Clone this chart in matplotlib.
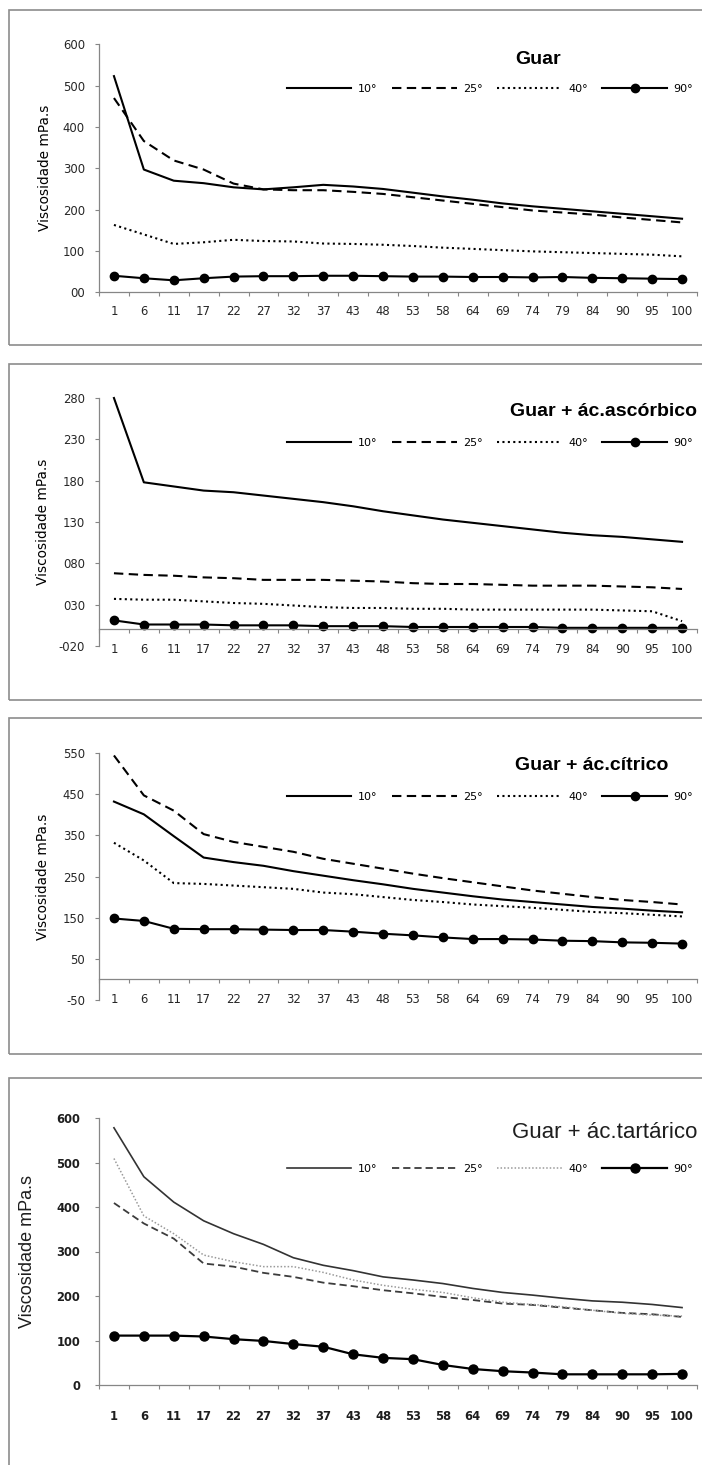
import numpy as np
import matplotlib
matplotlib.use("Agg")
import matplotlib.pyplot as plt
from matplotlib.patches import Rectangle

# categories (x axis) shared by the four charts
categories = ['1', '6', '11', '17', '22', '27', '32', '37', '43', '48',
              '53', '58', '64', '69', '74', '79', '84', '90', '95', '100']
series_names = ['10°', '25°', '40°', '90°']

# Guar
guar_10 = [523, 297, 270, 264, 254, 249, 254, 260, 256, 250, 241, 232, 224, 215, 208, 202, 196, 190, 184, 178]
guar_25 = [470, 366, 319, 297, 263, 249, 247, 247, 243, 238, 230, 222, 214, 206, 198, 193, 188, 181, 175, 169]
guar_40 = [163, 140, 117, 121, 127, 124, 123, 118, 117, 115, 112, 108, 105, 102, 99, 97, 95, 93, 91, 87]
guar_90 = [40, 34, 29, 34, 38, 39, 39, 40, 40, 39, 38, 38, 37, 37, 36, 37, 35, 34, 33, 32]

# Guar + ac. ascorbico
asc_10 = [280, 178, 173, 168, 166, 162, 158, 154, 149, 143, 138, 133, 129, 125, 121, 117, 114, 112, 109, 106]
asc_25 = [68, 66, 65, 63, 62, 60, 60, 60, 59, 58, 56, 55, 55, 54, 53, 53, 53, 52, 51, 49]
asc_40 = [37, 36, 36, 34, 32, 31, 29, 27, 26, 26, 25, 25, 24, 24, 24, 24, 24, 23, 22, 10]
asc_90 = [11, 6, 6, 6, 5, 5, 5, 4, 4, 4, 3, 3, 3, 3, 3, 2, 2, 2, 2, 2]

# Guar + ac. citrico
cit_10 = [432, 401, 348, 296, 285, 276, 263, 252, 241, 231, 220, 211, 202, 194, 188, 182, 176, 172, 167, 163]
cit_25 = [544, 447, 410, 353, 334, 322, 310, 293, 281, 269, 257, 246, 236, 226, 216, 208, 200, 193, 188, 182]
cit_40 = [332, 289, 234, 232, 228, 224, 220, 211, 207, 200, 193, 188, 182, 178, 174, 169, 164, 161, 157, 153]
cit_90 = [148, 142, 123, 122, 122, 121, 120, 120, 116, 111, 107, 102, 98, 98, 97, 94, 93, 90, 89, 87]

# Guar + ac. tartarico
tar_10 = [578, 468, 411, 369, 340, 316, 286, 269, 257, 243, 236, 228, 217, 208, 202, 195, 189, 186, 181, 174]
tar_25 = [409, 363, 329, 273, 266, 252, 243, 230, 222, 213, 206, 198, 191, 183, 180, 174, 168, 162, 159, 153]
tar_40 = [509, 380, 340, 292, 277, 266, 266, 253, 236, 224, 215, 208, 196, 186, 181, 176, 168, 161, 157, 155]
tar_90 = [111, 111, 111, 109, 103, 99, 92, 86, 69, 61, 58, 45, 36, 31, 28, 24, 24, 24, 24, 25]

# y axis ticks as printed in each chart
yt_guar = [0, 100, 200, 300, 400, 500, 600]
yl_guar = ['00', '100', '200', '300', '400', '500', '600']
yt_asc = [-20, 30, 80, 130, 180, 230, 280]
yl_asc = ['-020', '030', '080', '130', '180', '230', '280']
yt_cit = [-50, 50, 150, 250, 350, 450, 550]
yl_cit = ['-50', '50', '150', '250', '350', '450', '550']
yt_tar = [0, 100, 200, 300, 400, 500, 600]
yl_tar = ['0', '100', '200', '300', '400', '500', '600']

W, H = 702, 1465
fig = plt.figure(figsize=(W / 100, H / 100), dpi=100)


def fx(px):
    return px / W


def fy(py):
    return 1 - py / H


GREY = '#868686'
black_styles = [
    dict(color='black', lw=1.5, ls='-'),
    dict(color='black', lw=1.5, ls=(0, (4.5, 2.6))),
    dict(color='black', lw=1.5, ls=(0, (1, 1.6))),
    dict(color='black', lw=1.5, ls='-', marker='o', ms=6),
]
grey_styles = [
    dict(color='#333333', lw=1.2, ls='-'),
    dict(color='#3c3c3c', lw=1.3, ls=(0, (4.0, 2.2))),
    dict(color='#9a9a9a', lw=1.1, ls=(0, (1, 1.3))),
    dict(color='black', lw=1.6, ls='-', marker='o', ms=6.5),
]

panels = [
    dict(series=[guar_10, guar_25, guar_40, guar_90], yt=yt_guar, yl=yl_guar,
         ylim=(0, 600), top=44.3, bottom=292.3, box=(10, 345),
         title='Guar', title_x=515, title_y=64, leg_y=89, styles=black_styles,
         old=False, zero=False),
    dict(series=[asc_10, asc_25, asc_40, asc_90], yt=yt_asc, yl=yl_asc,
         ylim=(-20, 280), top=398, bottom=646, box=(364, 700),
         title='Guar + ác.ascórbico', title_x=510, title_y=416, leg_y=443, styles=black_styles,
         old=False, zero=True),
    dict(series=[cit_10, cit_25, cit_40, cit_90], yt=yt_cit, yl=yl_cit,
         ylim=(-50, 550), top=753, bottom=1000, box=(718, 1054),
         title='Guar + ác.cítrico', title_x=515, title_y=770, leg_y=797, styles=black_styles,
         old=False, zero=True),
    dict(series=[tar_10, tar_25, tar_40, tar_90], yt=yt_tar, yl=yl_tar,
         ylim=(0, 600), top=1118, bottom=1385, box=(1078, 1500),
         title='Guar + ác.tartárico', title_x=512, title_y=1138, leg_y=1169, styles=grey_styles,
         old=True, zero=False),
]

x = np.arange(len(categories))
ax_left, ax_right = 99, 697

for p in panels:
    # panel frame
    top_b, bot_b = p['box']
    fig.add_artist(Rectangle((fx(9), fy(bot_b)), 1.2, (bot_b - top_b) / H,
                             transform=fig.transFigure, fill=False,
                             edgecolor='#8c8c8c', lw=1.2))

    ax = fig.add_axes([fx(ax_left), fy(p['bottom']),
                       (ax_right - ax_left) / W, (p['bottom'] - p['top']) / H])
    ax.patch.set_alpha(0)

    handles = []
    for vals, st, name in zip(p['series'], p['styles'], series_names):
        ln, = ax.plot(x, vals, label=name, clip_on=False, **st)
        handles.append(ln)

    ax.set_xlim(-0.5, len(categories) - 0.5)
    ax.set_ylim(*p['ylim'])

    for s in ['top', 'right']:
        ax.spines[s].set_visible(False)
    for s in ['left', 'bottom']:
        ax.spines[s].set_color(GREY)
        ax.spines[s].set_linewidth(0.9)
    if p['zero']:
        ax.spines['bottom'].set_position(('data', 0))

    old = p['old']
    tcol = '#1e1e1e' if old else '#262626'
    tfont = dict(family='DejaVu Sans', size=8.3 if old else 8.4,
                 weight='bold' if old else 'normal')

    # category axis: tick marks between categories, labels centred
    ax.set_xticks(np.arange(-0.5, len(categories), 1.0))
    ax.set_xticklabels([])
    ax.set_xticks(x, minor=True)
    ax.set_xticklabels(categories, minor=True, fontdict=tfont, color=tcol)
    ax.tick_params(axis='x', which='major', direction='out', length=2.9,
                   width=0.8, color=GREY)
    ax.tick_params(axis='x', which='minor', length=0, pad=18 if old else 9.5)

    ax.set_yticks(p['yt'])
    ax.set_yticklabels(p['yl'], fontdict=tfont, color=tcol)
    ax.tick_params(axis='y', direction='out', length=2.9, width=0.8, color=GREY,
                   pad=10.8 if old else 7.2)

    if old:
        ax.set_ylabel('Viscosidade mPa.s', family='Liberation Sans', fontsize=13,
                      color='#1e1e1e')
        ax.yaxis.set_label_coords((36 - ax_left) / (ax_right - ax_left), 0.5)
        fig.text(fx(p['title_x']), fy(p['title_y']), p['title'], ha='left', va='baseline',
                 family='Liberation Sans', fontsize=16, color='#1e1e1e')
    else:
        ax.set_ylabel('Viscosidade mPa.s', family='DejaVu Sans', fontsize=9.8)
        lx = 52 if p['title'] == 'Guar' else 50
        ax.yaxis.set_label_coords((lx - ax_left) / (ax_right - ax_left), 0.5)
        fig.text(fx(p['title_x']), fy(p['title_y']), p['title'], ha='left', va='baseline',
                 family='Liberation Sans', fontweight='bold', fontsize=14)

    ax.legend(handles=handles, ncol=4, loc='center left',
              bbox_to_anchor=(fx(287), fy(p['leg_y'])), bbox_transform=fig.transFigure,
              frameon=False, borderpad=0, borderaxespad=0, handlelength=5.8,
              handletextpad=0.6, columnspacing=1.3, numpoints=1,
              prop=dict(family='DejaVu Sans', size=8))

fig.savefig('out.png', dpi=100)
